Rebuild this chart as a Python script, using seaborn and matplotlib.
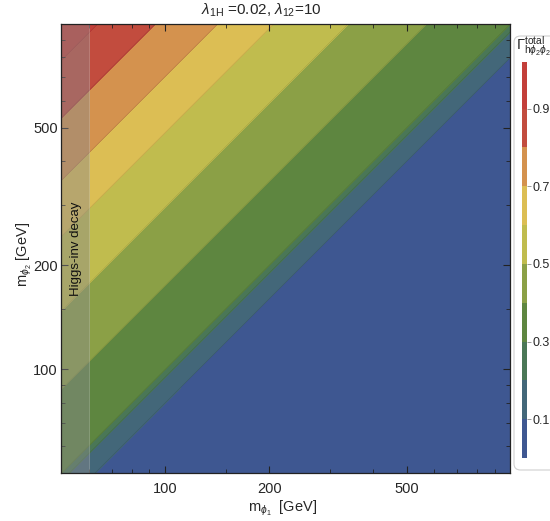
import numpy as np
import matplotlib
matplotlib.use("Agg")
import matplotlib.pyplot as plt
import seaborn as sns
from matplotlib.colors import ListedColormap, BoundaryNorm
from matplotlib.cm import ScalarMappable
from matplotlib.patches import FancyBboxPatch
from matplotlib.ticker import FixedLocator, NullFormatter, FixedFormatter

# Gamma_total contour levels and the ratio m_phi2/m_phi1 along which each one runs
levels = [0.1, 0.2, 0.3, 0.4, 0.5, 0.6, 0.7, 0.8, 0.9]
ratio_at_level = [0.80, 0.95, 1.00, 1.75, 2.95, 4.85, 7.05, 10.7, 15.7]
band_colors = ["#3E5791", "#436779", "#4A7756", "#5E8640", "#8BA046",
               "#C0BC4E", "#DCBE54", "#D4924E", "#C24C3E", "#C33F3A"]
cbar_bounds = [0.0] + levels + [1.02]
cbar_ticks = [0.1, 0.3, 0.5, 0.7, 0.9]

m_lo, m_hi = 50, 1000
higgs_inv_max = 60          # grey excluded strip, m_phi1 < 60 GeV
major_ticks = [100, 200, 500]
minor_ticks = [60, 70, 80, 90, 150, 300, 400, 600, 700, 800, 900]

sns.set_style("white")
plt.rcParams["font.family"] = ["Liberation Sans", "DejaVu Sans"]
plt.rcParams["mathtext.fontset"] = "custom"
plt.rcParams["mathtext.rm"] = "Liberation Sans"
plt.rcParams["mathtext.it"] = "Liberation Sans:italic"
plt.rcParams["axes.axisbelow"] = False

W, H = 550, 521
fig = plt.figure(figsize=(W / 100, H / 100), dpi=100)
ax = fig.add_axes([61.4 / W, 1 - 473.3 / H, 449 / W, 449.3 / H])

m = np.geomspace(m_lo, m_hi, 400)
M1, M2 = np.meshgrid(m, m)
ratio = M2 / M1
edges = [0.0] + ratio_at_level + [1e3]
ax.contourf(M1, M2, ratio, levels=edges, colors=sns.color_palette(band_colors))
ax.contour(M1, M2, ratio, levels=ratio_at_level, colors="k", linewidths=0.4, alpha=0.15)

# Higgs invisible decay region
ax.axvspan(m_lo, higgs_inv_max, color="#8a8a8c", alpha=0.45, lw=0, zorder=3)
ax.axvline(higgs_inv_max, color="#b0b0b0", lw=0.7, alpha=0.5, zorder=3)
ax.text(55, 224, "Higgs-inv decay", rotation=90, ha="center", va="center",
        fontsize=9.5, color="#111111", zorder=4)

ax.set_xscale("log")
ax.set_yscale("log")
ax.set_xlim(m_lo, m_hi)
ax.set_ylim(m_lo, m_hi)
ax.set_axisbelow(False)
for axis in (ax.xaxis, ax.yaxis):
    axis.set_major_locator(FixedLocator(major_ticks))
    axis.set_major_formatter(FixedFormatter([str(t) for t in major_ticks]))
    axis.set_minor_locator(FixedLocator(minor_ticks))
    axis.set_minor_formatter(NullFormatter())
ax.tick_params(which="both", direction="in", bottom=True, left=True,
               top=True, right=True, color="#222222", labelsize=10.5)
ax.tick_params(which="major", length=5, width=0.8)
ax.tick_params(which="minor", length=3, width=0.6)
ax.tick_params(axis="x", pad=6)
ax.tick_params(axis="y", pad=2.5)
for s in ax.spines.values():
    s.set_linewidth(0.9)
    s.set_color("#222222")
    s.set_zorder(5)

fig.text(261 / W, 1 - 10 / H, r"$\lambda_{\mathrm{1H}}$ =0.02, $\lambda_{12}$=10",
         ha="center", va="center", fontsize=11)
fig.text(283 / W, 1 - 508 / H, r"m$_{\phi_1}$  [GeV]", ha="center", va="center",
         fontsize=10.5)
fig.text(24 / W, 1 - 254 / H, r"m$_{\phi_2}$ [GeV]", ha="center", va="center",
         rotation=90, fontsize=10.5)

# legend box with bar
box = FancyBboxPatch((514 / W, 1 - 470 / H), 60 / W, 434 / H,
                     boxstyle="round,pad=0,rounding_size=0.012",
                     transform=fig.transFigure, fc="white", ec="#d0d0d0",
                     lw=0.8, zorder=-1)
fig.patches.append(box)
cax = fig.add_axes([522 / W, 1 - 458 / H, 4.5 / W, 396 / H])
sm = ScalarMappable(norm=BoundaryNorm(cbar_bounds, len(band_colors)),
                    cmap=ListedColormap(band_colors))
cb = fig.colorbar(sm, cax=cax, ticks=cbar_ticks, spacing="proportional")
cb.outline.set_visible(False)
cax.minorticks_off()
cax.tick_params(right=True, length=3, width=0.6, color="#888888", labelsize=9, pad=1)
cax.set_yticklabels([str(t) for t in cbar_ticks])
fig.text(516 / W, 1 - 46 / H, r"$\Gamma^{\mathrm{total}}_{\mathrm{h}\phi_2\phi_2}$",
         ha="left", va="center", fontsize=10.5)

fig.savefig("out.png", dpi=100)
